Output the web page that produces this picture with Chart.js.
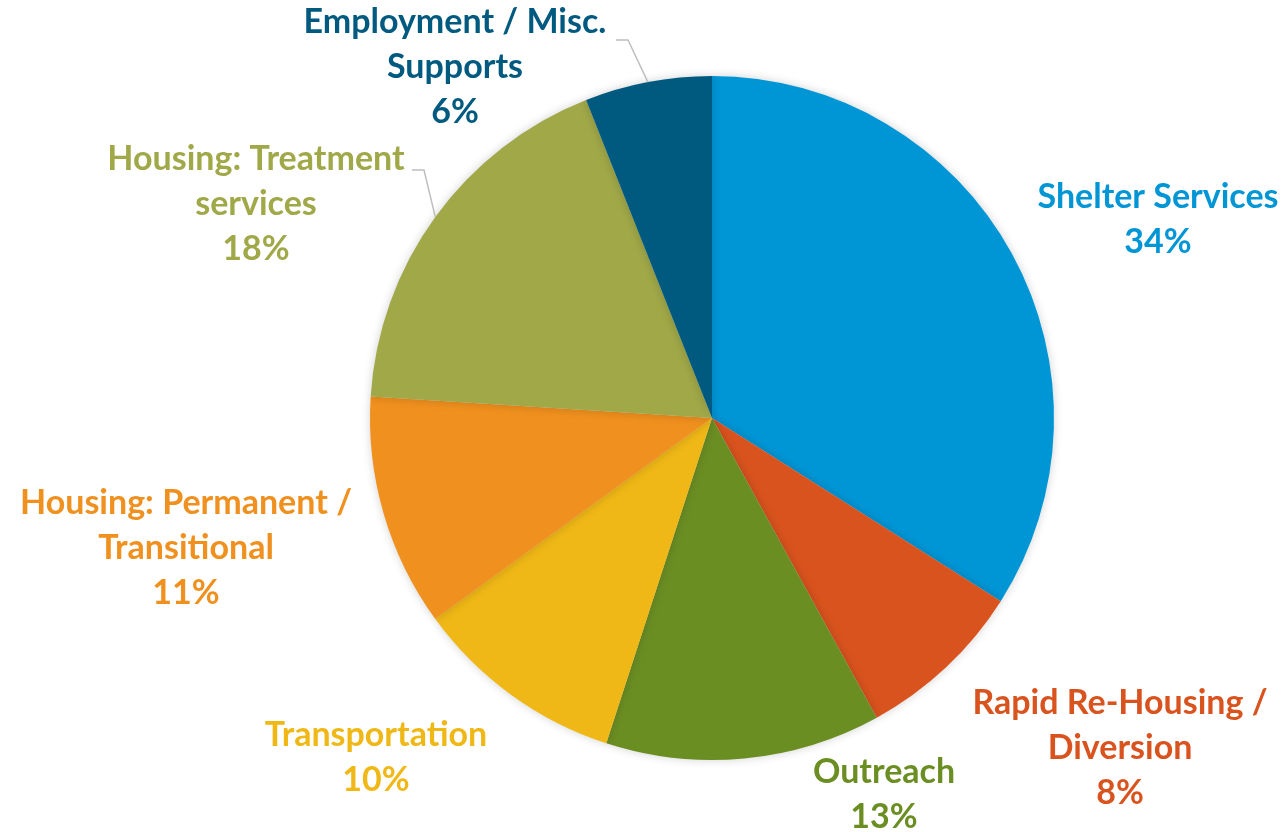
<!DOCTYPE html>
<html>
<head>
<meta charset="utf-8">
<script src="https://cdn.jsdelivr.net/npm/chart.js@4"></script>
<style>
    html, body { margin: 0; padding: 0; background: #ffffff; }
    #wrap { width: 1286px; height: 832px; position: relative; }
</style>
</head>
<body>
<div id="wrap"><canvas id="budget-chart"></canvas></div>
<script>
/// -------------- DATA --------------- ///

const categories = [
    "Shelter Services",
    "Rapid Re-Housing / Diversion",
    "Outreach",
    "Transportation",
    "Housing: Permanent / Transitional",
    "Housing: Treatment services",
    "Employment / Misc. Supports"
];
const shares = [34, 8, 13, 10, 11, 18, 6];

// how each label wraps onto lines
const labelLines = [
    ["Shelter Services"],
    ["Rapid Re-Housing /", "Diversion"],
    ["Outreach"],
    ["Transportation"],
    ["Housing: Permanent /", "Transitional"],
    ["Housing: Treatment", "services"],
    ["Employment / Misc.", "Supports"]
];

/// -------------- STYLE / LAYOUT --------------- ///

const sliceColors = ["#0096d6", "#d9531e", "#6b8e23", "#f0b816", "#f0901e", "#a0a848", "#005a80"];

// label block centre (x, y of first line), leader line elbow if any
const labelLayout = [
    { x: 1158, y: 197 },
    { x: 1120, y: 703 },
    { x: 884, y: 772 },
    { x: 376, y: 735 },
    { x: 186, y: 503 },
    { x: 256, y: 159, leader: { startX: 412, elbowX: 424, y: 170 } },
    { x: 455, y: 22, leader: { startX: 616, elbowX: 628, y: 40 } }
];
const lineHeight = 45;

const shadowPlugin = {
    id: "pieShadow",
    beforeDatasetDraw(chart) {
        const ctx = chart.ctx;
        ctx.save();
        ctx.shadowColor = "rgba(0,0,0,0.18)";
        ctx.shadowBlur = 10;
    },
    afterDatasetDraw(chart) {
        chart.ctx.restore();
    }
};

const labelPlugin = {
    id: "outsideLabels",
    afterDraw(chart) {
        const ctx = chart.ctx;
        const arcs = chart.getDatasetMeta(0).data;
        ctx.save();
        ctx.font = "bold 34px Lato, 'Open Sans', sans-serif";
        ctx.textAlign = "center";
        ctx.textBaseline = "middle";

        arcs.forEach((arc, i) => {
            const lay = labelLayout[i];
            const lines = labelLines[i].concat([shares[i] + "%"]);

            if (lay.leader) {
                const mid = (arc.startAngle + arc.endAngle) / 2;
                const ex = arc.x + Math.cos(mid) * arc.outerRadius;
                const ey = arc.y + Math.sin(mid) * arc.outerRadius;
                ctx.strokeStyle = "#bfbfbf";
                ctx.lineWidth = 1.5;
                ctx.beginPath();
                ctx.moveTo(lay.leader.startX, lay.leader.y);
                ctx.lineTo(lay.leader.elbowX, lay.leader.y);
                ctx.lineTo(ex, ey);
                ctx.stroke();
            }

            ctx.fillStyle = sliceColors[i];
            lines.forEach((txt, k) => {
                ctx.fillText(txt, lay.x, lay.y + k * lineHeight);
            });
        });
        ctx.restore();
    }
};

new Chart(document.getElementById("budget-chart"), {
    type: "pie",
    data: {
        labels: categories,
        datasets: [{
            data: shares,
            backgroundColor: sliceColors,
            borderWidth: 0
        }]
    },
    options: {
        responsive: true,
        maintainAspectRatio: false,
        animation: false,
        layout: {
            padding: { top: 76, bottom: 72, left: 370, right: 232 }
        },
        plugins: {
            legend: { display: false },
            tooltip: { enabled: false }
        }
    },
    plugins: [shadowPlugin, labelPlugin]
});
</script>
</body>
</html>
